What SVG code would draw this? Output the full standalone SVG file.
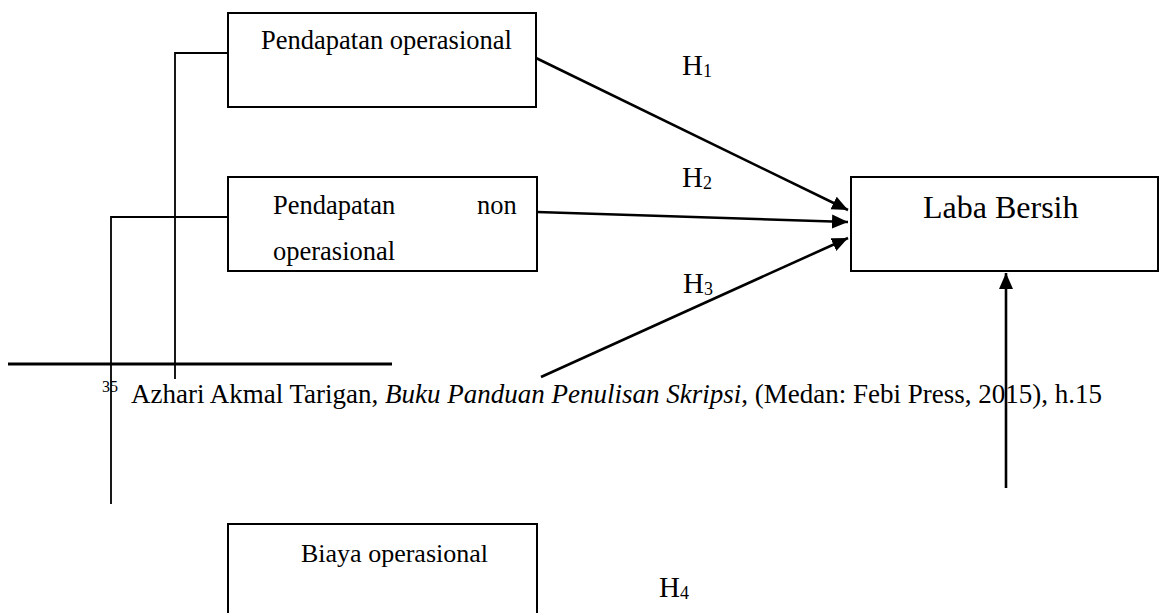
<svg xmlns="http://www.w3.org/2000/svg" width="1160" height="613" viewBox="0 0 1160 613">
<style>
.box{fill:#fff;stroke:#000;stroke-width:2}
.t{font-family:"Liberation Serif","Times New Roman",serif;fill:#000}
.ln{fill:none;stroke:#000;stroke-width:1.8}
.ar{fill:none;stroke:#000;stroke-width:2.6}
</style>
<defs>
<marker id="ah" markerUnits="userSpaceOnUse" markerWidth="18" markerHeight="16" refX="16" refY="7" orient="auto">
<path d="M0,0 L16,7 L0,14 Z" fill="#000"/>
</marker>
</defs>
<rect width="1160" height="613" fill="#fff"/>
<g id="connectors">
<polyline class="ln" points="228,53 175,53 175,379"/>
<polyline class="ln" points="228,217 111,217 111,504"/>
<line x1="8" y1="364" x2="392" y2="364" stroke="#000" stroke-width="3.2"/>
<line class="ar" x1="536" y1="58" x2="848" y2="210" marker-end="url(#ah)"/>
<line class="ar" x1="537" y1="212" x2="848" y2="222" marker-end="url(#ah)"/>
<line class="ar" x1="541" y1="377" x2="848" y2="238" marker-end="url(#ah)"/>
<line class="ar" x1="1006" y1="488" x2="1006" y2="273" marker-end="url(#ah)"/>
</g>
<g id="node-pendapatan-operasional">
<rect class="box" x="228" y="13" width="308" height="94"/>
<text class="t" x="261" y="49" font-size="26.5">Pendapatan operasional</text>
</g>
<g id="node-pendapatan-non-operasional">
<rect class="box" x="228" y="177" width="309" height="94"/>
<text class="t" x="273" y="214" font-size="26.5">Pendapatan</text>
<text class="t" x="477" y="214" font-size="26.5">non</text>
<text class="t" x="273" y="260" font-size="26.5">operasional</text>
</g>
<g id="node-laba-bersih">
<rect class="box" x="851" y="177" width="307" height="94"/>
<text class="t" x="923" y="218" font-size="32">Laba Bersih</text>
</g>
<g id="node-biaya-operasional">
<rect class="box" x="228" y="524" width="309" height="100"/>
<text class="t" x="301" y="562" font-size="26">Biaya operasional</text>
</g>
<g id="labels">
<text class="t" x="682" y="75" font-size="29">H<tspan font-size="18" dy="2">1</tspan></text>
<text class="t" x="682" y="187" font-size="29">H<tspan font-size="18" dy="2">2</tspan></text>
<text class="t" x="683" y="293" font-size="29">H<tspan font-size="18" dy="2">3</tspan></text>
<text class="t" x="659" y="597" font-size="29">H<tspan font-size="18" dy="2">4</tspan></text>
</g>
<g id="footnote">
<text class="t" x="102" y="392" font-size="16">35</text>
<text class="t" x="131" y="403" font-size="27">Azhari Akmal Tarigan, <tspan font-style="italic">Buku Panduan Penulisan Skripsi</tspan>, (Medan: Febi Press, 2015), h.15</text>
</g>
</svg>
